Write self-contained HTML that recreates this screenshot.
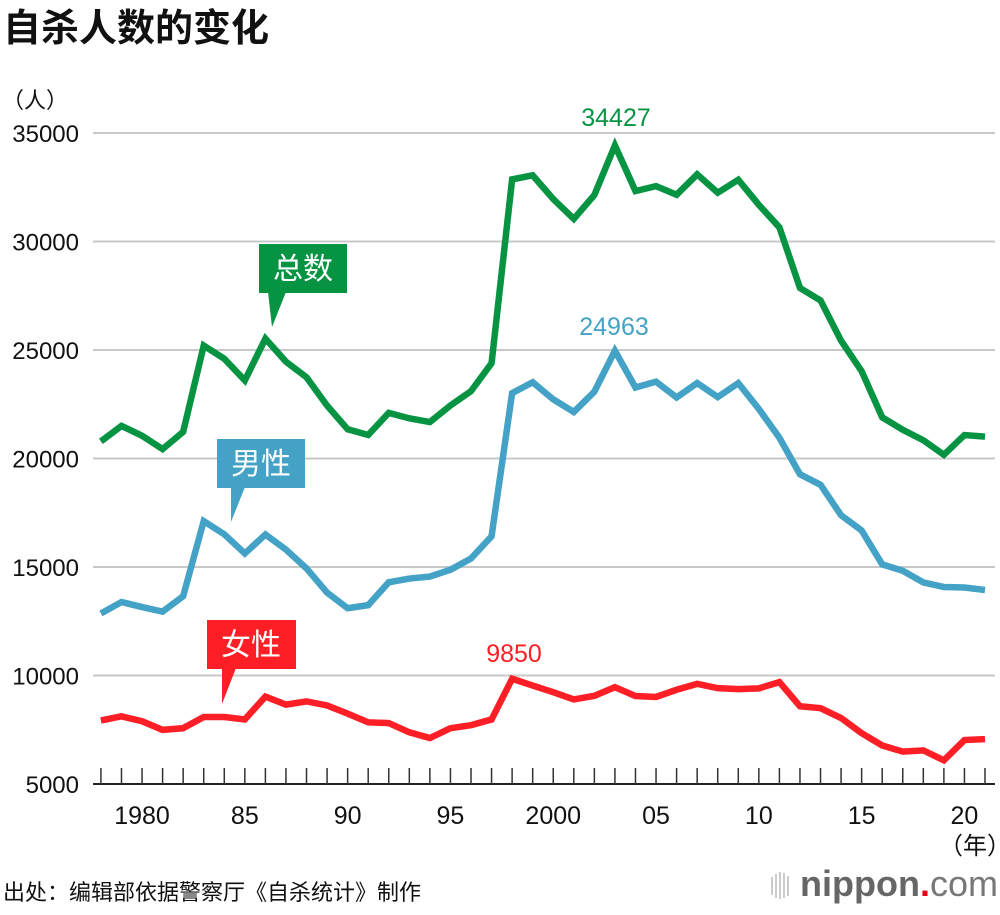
<!DOCTYPE html>
<html><head><meta charset="utf-8"><style>
body{margin:0;background:#fff;width:1000px;height:910px;overflow:hidden;font-family:"Liberation Sans","Noto Sans CJK SC",sans-serif}
</style></head><body>
<svg width="1000" height="910" xmlns="http://www.w3.org/2000/svg" font-family="Liberation Sans, Noto Sans CJK SC, sans-serif">
<text x="3" y="41" font-size="38" font-weight="bold" fill="#111">自杀人数的变化</text>
<text x="2" y="108" font-size="22" fill="#111">（人）</text>
<g id="grid"></g><g id="axis"></g><g id="lines"></g>
<g><rect x="259" y="244" width="88" height="49" fill="#069443"/><polygon points="268,292 286,292 272,327" fill="#069443"/><text x="303" y="279" font-size="30" fill="#fff" text-anchor="middle">总数</text></g>
<g><rect x="217" y="439" width="88" height="49" fill="#43a2c6"/><polygon points="231,487 245,487 231,522" fill="#43a2c6"/><text x="261" y="474" font-size="30" fill="#fff" text-anchor="middle">男性</text></g>
<g><rect x="207" y="620" width="89" height="49" fill="#fe1f26"/><polygon points="222,668 236,668 222,704" fill="#fe1f26"/><text x="251" y="655" font-size="30" fill="#fff" text-anchor="middle">女性</text></g>
<text x="616" y="126" font-size="25" fill="#069443" text-anchor="middle">34427</text>
<text x="614" y="335" font-size="25" fill="#43a2c6" text-anchor="middle">24963</text>
<text x="514" y="662" font-size="25" fill="#fe1f26" text-anchor="middle">9850</text>
<text x="975" y="854" font-size="24" fill="#111" text-anchor="middle">（年）</text>
<text x="3" y="900" font-size="22" fill="#111">出处：编辑部依据警察厅《自杀统计》制作</text>
<g>
<g stroke="#bbb" stroke-width="1.5"><line x1="772" y1="877" x2="772" y2="895"/><line x1="776" y1="874" x2="776" y2="898"/><line x1="780" y1="872" x2="780" y2="899"/><line x1="784" y1="873" x2="784" y2="898"/><line x1="788" y1="876" x2="788" y2="896"/></g>
<text x="800" y="896" font-size="36" font-weight="bold" fill="#666">nippon<tspan fill="#e60012">.</tspan><tspan font-weight="normal" fill="#777">com</tspan></text></g>
</svg>
<script>
const years=[];for(let y=1978;y<=2021;y++)years.push(y);
const totalValues=[20788,21503,21048,20434,21228,25202,24596,23599,25524,24460,23742,22436,21346,21084,22104,21851,21679,22445,23104,24391,32863,33048,31957,31042,32143,34427,32325,32552,32155,33093,32249,32845,31690,30651,27858,27283,25427,24025,21897,21321,20840,20169,21081,21007];
const maleValues=[12859,13386,13155,12942,13654,17116,16508,15624,16497,15802,14934,13818,13102,13242,14296,14468,14560,14874,15393,16416,23013,23512,22727,22144,23080,24963,23272,23540,22813,23478,22831,23472,22283,20955,19273,18787,17386,16681,15121,14826,14290,14078,14055,13939];
const femaleValues=[7929,8117,7893,7492,7574,8086,8088,7975,9027,8658,8808,8618,8244,7842,7808,7383,7119,7571,7711,7975,9850,9536,9230,8898,9063,9464,9053,9012,9342,9615,9418,9373,9407,9696,8585,8496,8041,7344,6776,6495,6550,6091,7026,7068];
const yTicks=[5000,10000,15000,20000,25000,30000,35000];
const xLabelYears=[1980,1985,1990,1995,2000,2005,2010,2015,2020];
const xLabelText=["1980","85","90","95","2000","05","10","15","20"];
const NS="http://www.w3.org/2000/svg";
const X=y=>985-(2021-y)*20.56;
const Y=v=>784-(v-5000)*651/30000;
function mk(tag,attrs,parent,txt){const e=document.createElementNS(NS,tag);for(const k in attrs)e.setAttribute(k,attrs[k]);if(txt!==undefined)e.textContent=txt;document.getElementById(parent).appendChild(e);return e;}
yTicks.forEach(v=>{
 if(v>5000){const l=mk('line',{x1:93,x2:995,y1:Y(v),y2:Y(v),stroke:'#c8c8c8','stroke-width':2},'grid');
 
 }
 const t=mk('text',{x:79,y:Y(v)+9,'font-size':24,'text-anchor':'end',fill:'#111'},'grid',String(v));
 
 
});
const ax=mk('line',{x1:93,x2:995,y1:784,y2:784,stroke:'#222','stroke-width':2},'axis');


years.forEach(y=>{const t=mk('line',{x1:X(y),x2:X(y),y1:768,y2:784,stroke:'#333','stroke-width':1.5},'axis');
 
 });
xLabelYears.forEach((y,i)=>{const t=mk('text',{x:X(y),y:824,'font-size':25,'text-anchor':'middle',fill:'#111'},'axis',xLabelText[i]);
 
 });
[[totalValues,'#069443','total'],[maleValues,'#43a2c6','male'],[femaleValues,'#fe1f26','female']].forEach(([vals,c,n])=>{
 const p=mk('polyline',{points:vals.map((v,i)=>X(years[i])+','+Y(v)).join(' '),fill:'none',stroke:c,'stroke-width':6.5,'stroke-linejoin':'miter'},'lines');
 
 
});
</script>
</body></html>
